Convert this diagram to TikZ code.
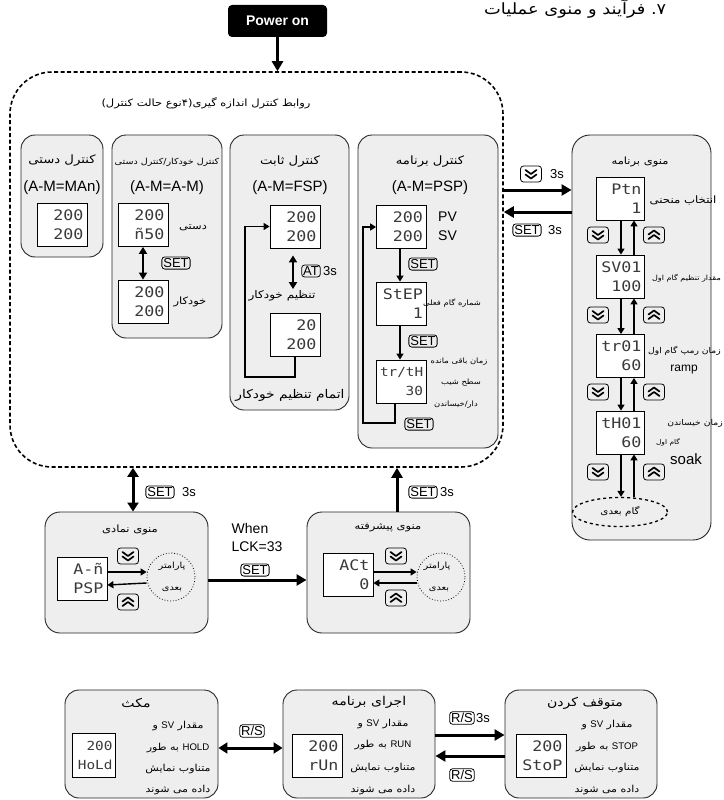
\documentclass[tikz,border=0pt]{standalone}
\usepackage{fontspec}
\setmainfont{Liberation Sans}
\newfontfamily\fa[Script=Arabic, FakeStretch=1.15]{DejaVu Sans}
\newfontfamily\segfont[FakeStretch=1.15]{DejaVu Sans Mono}
\usetikzlibrary{arrows.meta,calc,shapes.geometric}
\definecolor{panelgray}{HTML}{EEEEEE}
\definecolor{segcol}{HTML}{3A3A3A}
\tikzset{
 panel/.style={draw=black!85, fill=panelgray, line width=0.9pt, rounded corners=#1},
 panel/.default=14pt,
 disp/.style={draw=black, fill=white, line width=0.8pt, minimum width=50pt, minimum height=43pt, text width=43pt, align=right, inner sep=2.5pt, font=\segfont\fontsize{14.5}{19}\selectfont, text=segcol},
 keybox/.style={draw=black, line width=0.8pt, rounded corners=3pt, inner sep=1.5pt, font=\fontsize{13}{13}\selectfont},
 keybtn/.style={draw=black, line width=0.8pt, rounded corners=3pt, minimum width=21pt, minimum height=16pt, inner sep=0pt},
 chev/.style={line width=1.7pt, line cap=round, line join=round},
 fa/.style={font=\fa\fontsize{#1}{#1}\selectfont, inner sep=1pt},
 lat/.style={font=\fontsize{#1}{#1}\selectfont, inner sep=1pt},
 bigarrow/.style={line width=3pt, -{Triangle[length=10pt,width=11pt]}},
 bigdouble/.style={line width=3pt, {Triangle[length=9pt,width=11pt]}-{Triangle[length=9pt,width=11pt]}},
 smallarrow/.style={line width=1.4pt, -{Triangle[length=6pt,width=7pt]}},
 smalldouble/.style={line width=1.8pt, {Triangle[length=7pt,width=8pt]}-{Triangle[length=7pt,width=8pt]}},
 param/.style={circle, draw, dotted, line width=0.8pt, minimum size=48pt, inner sep=0pt},
}
\newcommand\keydown[3]{%
 \node[keybtn] (#1) at (#2,#3) {};
 \draw[chev] ([shift={(-5.5,-4)}]#1.center) -- ([shift={(0,0)}]#1.center) -- ([shift={(5.5,-4)}]#1.center);
 \draw[chev] ([shift={(-5.5,0.5)}]#1.center) -- ([shift={(0,4.5)}]#1.center) -- ([shift={(5.5,0.5)}]#1.center);}
\newcommand\keyup[3]{%
 \node[keybtn] (#1) at (#2,#3) {};
 \draw[chev] ([shift={(-5.5,4)}]#1.center) -- ([shift={(0,0)}]#1.center) -- ([shift={(5.5,4)}]#1.center);
 \draw[chev] ([shift={(-5.5,-0.5)}]#1.center) -- ([shift={(0,-4.5)}]#1.center) -- ([shift={(5.5,-0.5)}]#1.center);}
\begin{document}
\begin{tikzpicture}[x=1pt,y=-1pt]
\useasboundingbox (0,0) rectangle (723,800);
% helper rows
\coordinate (rowA) at (0,190);
\coordinate (rowB) at (0,212);
\coordinate (rowC) at (0,580);
\coordinate (rowD) at (0,748);
\coordinate (rowE) at (0,735);
\coordinate (rowF) at (0,756);

\node[anchor=base west, fa=15.5, inner sep=0pt] (pagetitle) at (484,15) {عملیات منوی و فرآیند ۷.};

\node[fill=black, rounded corners=4pt, minimum width=99pt, minimum height=32pt, text=white, font=\bfseries\fontsize{14}{14}\selectfont] (power) at (277.5,21) {Power on};
\node[draw, line width=1.6pt, dash pattern=on 4pt off 2.5pt, rounded corners=42pt, minimum width=493pt, minimum height=395pt] (ctrl) at (256.5,269.5) {};
\draw[bigarrow] (power.south) -- (power.south |- ctrl.north);
\node[fa=10] (ctrltitle) at (206,103) {)\kern0pt کنترل حالت نوع\kern0pt۴\kern0pt(\kern0pt گیری اندازه کنترل روابط};

% manual
\node[panel, minimum width=82pt, minimum height=122pt] (manual) at (62,196) {};
\node[fa=11.5] (manualt) at (62,161) {دستی کنترل};
\node[lat=15] (manualm) at (62,188) {(A-M=MAn)};
\node[disp] (manuald) at (62,225) {200\\200};

% auto/manual
\node[panel, minimum width=110pt, minimum height=203pt] (am) at (167,236.5) {};
\node[fa=8.3] (amt) at (167,162) {دستی کنترل\kern0pt/\kern0pt خودکار کنترل};
\node[lat=15] (amm) at (167,188) {(A-M=A-M)};
\node[disp] (amd1) at (143,225) {200\\ñ50};
\node[disp] (amd2) at (143,301.5) {200\\200};
\node[fa=10] (amman) at (193,228) {دستی};
\node[fa=10] (amauto) at (190,302) {خودکار};
\draw[smalldouble] (amd1.south) -- (amd2.north);
\node[keybox] (amset) at (176,263) {SET};

% fixed
\node[panel, minimum width=119pt, minimum height=275pt] (fsp) at (289.5,272.5) {};
\node[fa=11.5] (fspt) at (290,162) {ثابت کنترل};
\node[lat=15] (fspm) at (290,188) {(A-M=FSP)};
\node[disp] (fspd1) at (295,226.5) {200\\200};
\node[disp] (fspd2) at (295,335) {20\\200};
\draw[smalldouble] ([shift={(-2,7)}]fspd1.south) -- ([shift={(-2,-24)}]fspd2.north);
\node[keybox] (fspat) at (311,271) {AT};
\node[lat=13, anchor=west] (fsp3s) at (322,271) {3s};
\node[fa=10.5] (fsptune) at (282,296) {خودکار تنظیم};
\coordinate (fspc) at (245,377);
\draw[smallarrow] (fspd2.south) |- (fspc) |- (fspd1.west);
\node[fa=12] (fspend) at (290,395) {خودکار تنظیم اتمام};

% program control
\node[panel, minimum width=140pt, minimum height=313pt] (psp) at (428,291.5) {};
\node[fa=11.5] (pspt) at (430,162) {برنامه کنترل};
\node[lat=15] (pspm) at (430,188) {(A-M=PSP)};
\node[disp] (pspd1) at (401.5,227) {200\\200};
\node[lat=14, anchor=west] (psppv) at (437,217) {PV};
\node[lat=14, anchor=west] (pspsv) at (437,236) {SV};
\node[disp] (pspd2) at (401.5,303.5) {StEP\\1};
\node[fa=7.3] (pspstep) at (452,303) {فعلی گام شماره};
\node[disp, font=\segfont\fontsize{12.5}{19}\selectfont] (pspd3) at (401.5,381.5) {tr/tH\\30};
\node[fa=7.3] (psprem1) at (459,362) {مانده باقی زمان};
\node[fa=7.3] (psprem2) at (461,383) {شیب سطح};
\node[fa=7.3] (psprem3) at (456,405) {خیساندن\kern0pt/\kern0pt دار};
\draw[smallarrow] ([xshift=-1.5pt]pspd1.south) -- ([xshift=-1.5pt]pspd2.north);
\node[keybox] (pspset1) at (423,264) {SET};
\draw[smallarrow] ([xshift=-1.5pt]pspd2.south) -- ([xshift=-1.5pt]pspd3.north);
\node[keybox] (pspset2) at (423,341) {SET};
\coordinate (pspc) at (363,423);
\draw[smallarrow] ([xshift=-6.5pt]pspd3.south) |- (pspc) |- (pspd1.west);
\node[keybox] (pspset3) at (419,424) {SET};

% program menu
\node[panel=18pt, minimum width=139pt, minimum height=405pt] (pmenu) at (641.5,337.5) {};
\draw[bigarrow] (ctrl.east |- rowA) -- (pmenu.west |- rowA);
\draw[bigarrow] (pmenu.west |- rowB) -- (ctrl.east |- rowB);
\keydown{tokey}{531}{174}
\node[lat=13] (to3s) at (557,174) {3s};
\node[keybox] (backset) at (527,230) {SET};
\node[lat=13] (back3s) at (555,230) {3s};

\node[fa=10] (pmt) at (640,162) {برنامه منوی};
\node[disp, minimum width=48pt, text width=43pt] (pmd1) at (620,198.5) {Ptn\\1};
\node[disp, minimum width=48pt, text width=43pt] (pmd2) at (620,276.5) {SV01\\100};
\node[disp, minimum width=48pt, text width=43pt] (pmd3) at (620,356) {tr01\\60};
\node[disp, minimum width=48pt, text width=43pt] (pmd4) at (620,432.5) {tH01\\60};
\node[ellipse, draw, dashed, line width=1.3pt, minimum width=95pt, minimum height=29pt, fa=9] (pmnext) at (620,512) {بعدی گام};
\node[fa=10.2] (pml1) at (683,200) {منحنی انتخاب};
\node[fa=7, anchor=east] (pml2) at (722,278) {اول گام تنظیم مقدار};
\node[fa=8, anchor=east] (pml3) at (722,351) {اول گام رمپ زمان};
\node[lat=12] (pmramp) at (684,370) {ramp};
\node[fa=8] (pml4a) at (695,423) {خیساندن زمان};
\node[fa=6.5] (pml4b) at (668,442) {اول گام};
\node[lat=15] (pmsoak) at (686,459) {soak};
\draw[smallarrow] ([xshift=1pt]pmd1.south) -- ([xshift=1pt]pmd2.north);
\draw[smallarrow] ([xshift=14pt]pmd2.north) -- ([xshift=14pt]pmd1.south);
\draw[smallarrow] ([xshift=1pt]pmd2.south) -- ([xshift=1pt]pmd3.north);
\draw[smallarrow] ([xshift=14pt]pmd3.north) -- ([xshift=14pt]pmd2.south);
\draw[smallarrow] ([xshift=1pt]pmd3.south) -- ([xshift=1pt]pmd4.north);
\draw[smallarrow] ([xshift=14pt]pmd4.north) -- ([xshift=14pt]pmd3.south);
\draw[smallarrow] ([xshift=1pt]pmd4.south) -- ([xshift=1pt]pmnext.north);
\draw[smallarrow] ([xshift=14pt]pmnext.north) -- ([xshift=14pt]pmd4.south);
\keydown{pmk1d}{598}{235} \keyup{pmk1u}{654}{235}
\keydown{pmk2d}{598}{315} \keyup{pmk2u}{654}{315}
\keydown{pmk3d}{598}{392} \keyup{pmk3u}{654}{392}
\keydown{pmk4d}{598}{472} \keyup{pmk4u}{654}{472}

% symbol menu
\node[panel=15pt, minimum width=163pt, minimum height=121pt] (sym) at (126.5,572.5) {};
\node[fa=10] (symt) at (130,530) {نمادی منوی};
\node[disp] (symd) at (82,578.5) {A-ñ\\PSP};
\node[param] (symc) at (171,577) {};
\node[fa=8.5] (symc1) at (172,566) {پارامتر};
\node[fa=8.5] (symc2) at (172,589) {بعدی};
\keydown{symkd}{128}{556}
\keyup{symku}{128}{602}
\draw[smallarrow] ([shift={(0,-6.5)}]symd.east) -- ([shift={(0,-5)}]symc.west);
\draw[smallarrow] ([shift={(0,6)}]symc.west) -- ([shift={(0,6.5)}]symd.east);
\draw[bigdouble] ([xshift=6.5pt]sym.north) -- ([xshift=6.5pt]sym.north |- ctrl.south);
\node[keybox] (symset) at (160,492) {SET};
\node[lat=13] (sym3s) at (189,492) {3s};

\node[lat=14] (when1) at (250,528) {When};
\node[lat=14] (when2) at (257,547) {LCK=33};
\node[keybox] (whenset) at (255,570) {SET};

% advanced menu
\node[panel=15pt, minimum width=163pt, minimum height=121pt] (adv) at (388.5,572.5) {};
\draw[bigarrow] (sym.east |- rowC) -- (adv.west |- rowC);
\node[fa=10] (advt) at (388,528) {پیشرفته منوی};
\node[disp] (advd) at (348,575) {ACt\\0};
\node[param] (advc) at (441,577) {};
\node[fa=8.5] (advc1) at (437,566) {پارامتر};
\node[fa=8.5] (advc2) at (439,589) {بعدی};
\keydown{advkd}{396}{556}
\keyup{advku}{396}{598}
\draw[smallarrow] ([shift={(0,-3)}]advd.east) -- ([shift={(0,-5)}]advc.west);
\draw[smallarrow] ([shift={(0,6)}]advc.west) -- ([shift={(0,8)}]advd.east);
\draw[bigarrow] ([xshift=8.5pt]adv.north) -- ([xshift=8.5pt]adv.north |- ctrl.south);
\node[keybox] (advset) at (423,492) {SET};
\node[lat=13] (adv3s) at (447,492) {3s};

% hold
\node[panel=14pt, minimum width=153pt, minimum height=108pt] (hold) at (141.5,744) {};
\node[fa=12.2] (holdt) at (136,703) {مکث};
\node[disp, minimum width=43pt, minimum height=44pt, text width=37pt, font=\segfont\fontsize{12.5}{19}\selectfont] (holdd) at (94,755) {200\\HoLd};
\node[fa=9.6] (hold1) at (178,726) {و {\rmfamily SV} مقدار};
\node[fa=9.6] (hold2) at (178,748) {طور به {\rmfamily HOLD}};
\node[fa=9.6] (hold3) at (178,769) {نمایش متناوب};
\node[fa=9.6] (hold4) at (178,790) {شوند می داده};

% run
\node[panel=14pt, minimum width=152pt, minimum height=108pt] (run) at (359,744) {};
\node[fa=12.2] (runt) at (369,702) {برنامه اجرای};
\node[disp] (rund) at (317,755.5) {200\\rUn};
\node[fa=9.6] (run1) at (383,724) {و {\rmfamily SV} مقدار};
\node[fa=9.6] (run2) at (383,745) {طور به {\rmfamily RUN}};
\node[fa=9.6] (run3) at (383,768) {نمایش متناوب};
\node[fa=9.6] (run4) at (383,790) {شوند می داده};
\draw[bigdouble] (hold.east |- rowD) -- (run.west |- rowD);
\node[keybox] (holdrs) at (252,731) {R/S};

% stop
\node[panel=14pt, minimum width=152pt, minimum height=108pt] (stop) at (581,744) {};
\node[fa=12.2] (stopt) at (585,703) {کردن متوقف};
\node[disp] (stopd) at (541,755.5) {200\\StoP};
\node[fa=9.6] (stop1) at (607,725) {و {\rmfamily SV} مقدار};
\node[fa=9.6] (stop2) at (607,747) {طور به {\rmfamily STOP}};
\node[fa=9.6] (stop3) at (607,768) {نمایش متناوب};
\node[fa=9.6] (stop4) at (607,790) {شوند می داده};
\draw[bigarrow] (run.east |- rowE) -- (stop.west |- rowE);
\draw[bigarrow] (stop.west |- rowF) -- (run.east |- rowF);
\node[keybox] (runrs1) at (462,718) {R/S};
\node[lat=13, anchor=west] (run3s) at (475,718) {3s};
\node[keybox] (runrs2) at (462,775) {R/S};
\end{tikzpicture}
\end{document}
